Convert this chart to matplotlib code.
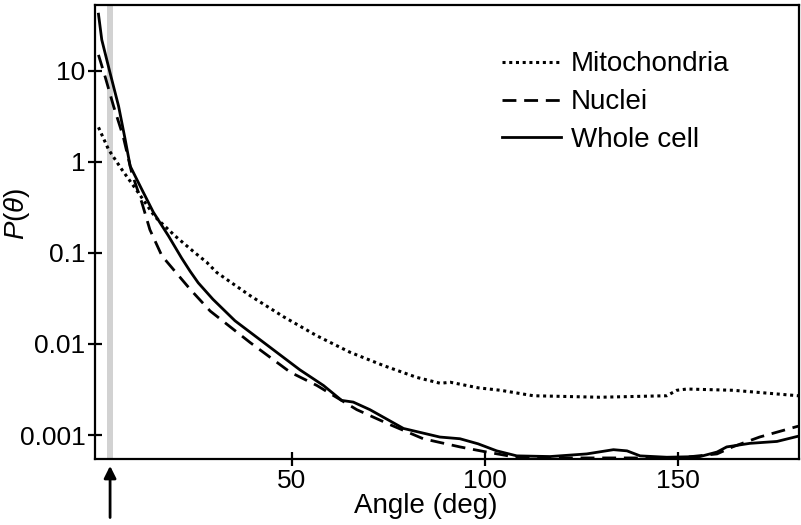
import numpy as np
import matplotlib.pyplot as plt

plt.rcParams['font.family'] = ['Liberation Sans', 'DejaVu Sans']
plt.rcParams['mathtext.fontset'] = 'custom'
plt.rcParams['mathtext.rm'] = 'Liberation Sans'
plt.rcParams['mathtext.it'] = 'Liberation Sans:italic'

# Values (angle in deg, P(theta))
whole_deg = [0, 0.85, 3, 5.2, 6.9, 8.2, 11.2, 14.2, 18.1, 21.5, 23.7, 25.8, 29.6, 35.3,
             46.1, 52.1, 58.2, 62.9, 65.9, 70.2, 78.9, 88.3, 93.5, 98.2, 103, 108.2,
             116.8, 126.3, 133.2, 136.7, 140.1, 147, 155.6, 160, 162.5, 168.5, 175.5, 181]
whole_val = [42, 22, 9.5, 4.1, 1.77, 0.90, 0.50, 0.28, 0.154, 0.088, 0.063, 0.047, 0.031,
             0.018, 0.0081, 0.0052, 0.0035, 0.0024, 0.0023, 0.0019, 0.00118, 0.00095,
             0.00091, 0.00080, 0.00067, 0.00059, 0.00058, 0.00062, 0.00069, 0.00067,
             0.00059, 0.00057, 0.00058, 0.00065, 0.00074, 0.00081, 0.00085, 0.00097]

nuc_deg = [0, 1.7, 3.9, 6.4, 8.6, 11.2, 13.3, 16.4, 21.1, 23.7, 28.9, 39.2, 49.6, 56.5,
           66.8, 75.4, 84, 93.5, 99.6, 108, 120, 135, 150, 160, 164, 171, 181]
nuc_val = [15, 8.7, 4.1, 1.9, 0.76, 0.36, 0.18, 0.093, 0.054, 0.040, 0.023, 0.0104,
           0.0049, 0.0035, 0.0019, 0.0013, 0.00091, 0.00074, 0.00066, 0.00057, 0.00056,
           0.00056, 0.00056, 0.00062, 0.00074, 0.00095, 0.00125]

mito_deg = [0, 2.6, 6.0, 10.3, 14.6, 19.8, 25, 28, 30.6, 39.2, 47.8, 56.5, 65.1, 73.7,
            82.3, 88.4, 91, 98.2, 104, 112.5, 129.7, 147, 149.6, 152.2, 164.2, 181]
mito_val = [2.4, 1.37, 0.83, 0.46, 0.25, 0.154, 0.10, 0.079, 0.061, 0.034, 0.020,
            0.0123, 0.0081, 0.0058, 0.0043, 0.0037, 0.0038, 0.0033, 0.0031, 0.0027,
            0.0026, 0.0027, 0.0031, 0.0032, 0.0031, 0.0027]

band = (2.1, 3.8)
arrow_deg = 3.0
yticks = [0.001, 0.01, 0.1, 1, 10]
ytick_labels = ['0.001', '0.01', '0.1', '1', '10']
xticks = [50, 100, 150]

fig = plt.figure(figsize=(8.01, 5.25), dpi=100)
ax = fig.add_axes([0.1186, 0.1257, 0.8789, 0.8648])

ax.axvspan(*band, color='#d2d2d2', lw=0, zorder=0)

ax.plot(mito_deg, mito_val, color='black', lw=2.2, ls=(0, (1, 1.2)),
        dash_capstyle='butt', label='Mitochondria')
ax.plot(nuc_deg, nuc_val, color='black', lw=2.0, ls=(0, (5, 2.8)), label='Nuclei')
ax.plot(whole_deg, whole_val, color='black', lw=2.0, label='Whole cell')

ax.set_yscale('log')
ax.set_xlim(-0.9, 181.2)
ax.set_ylim(5.45e-4, 53)
ax.set_yticks(yticks)
ax.set_yticklabels(ytick_labels)
ax.yaxis.set_minor_locator(plt.NullLocator())
ax.set_xticks(xticks)

for sp in ax.spines.values():
    sp.set_linewidth(1.6)
ax.tick_params(axis='both', direction='inout', width=1.6, labelsize=19)
ax.tick_params(axis='y', length=9.5, pad=2)
ax.tick_params(axis='x', length=10.5, pad=2)

ax.set_xlabel('Angle (deg)', fontsize=20)
ax.xaxis.set_label_coords(0.47, -0.075)
ax.set_ylabel(r'$P(\theta)$', fontsize=20)
ax.yaxis.set_label_coords(-0.09, 0.54)

ax.annotate('', xy=(arrow_deg, -0.009), xycoords=('data', 'axes fraction'),
            xytext=(arrow_deg, -0.135), textcoords=('data', 'axes fraction'),
            arrowprops=dict(arrowstyle='-|>', color='black', lw=2, mutation_scale=18),
            annotation_clip=False)

ax.legend(loc='upper left', bbox_to_anchor=(0.578, 0.898), frameon=False, fontsize=20,
          handlelength=2.12, handletextpad=0.36, labelspacing=0.43, borderpad=0,
          borderaxespad=0)

fig.savefig('out.png', dpi=100)
